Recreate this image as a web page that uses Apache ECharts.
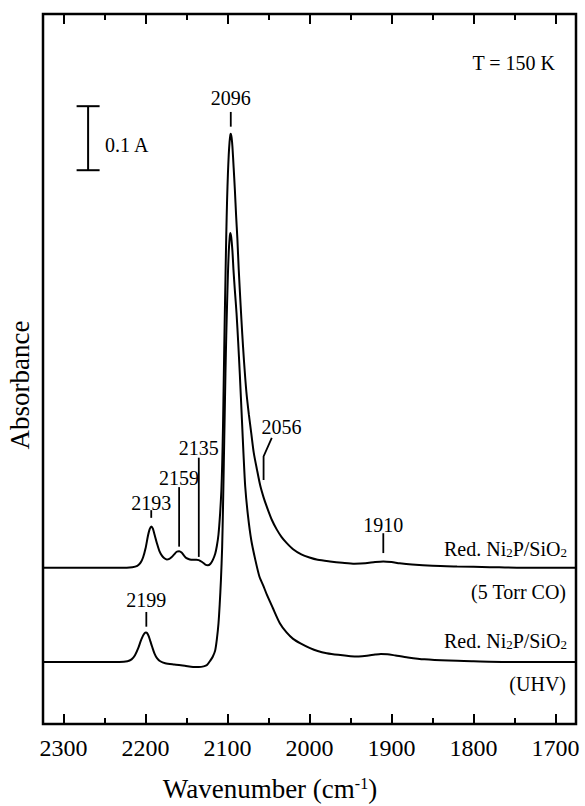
<!DOCTYPE html>
<html>
<head>
<meta charset="utf-8">
<script src="https://cdn.jsdelivr.net/npm/echarts@6/dist/echarts.min.js"></script>
<style>
  html, body { margin: 0; padding: 0; background: #fff; }
  #chart { width: 585px; height: 806px; }
</style>
</head>
<body>
<div id="chart"></div>
<script>
// IR spectra of CO adsorbed on reduced Ni2P/SiO2 at 150 K.
// Each spectrum: [wavenumber (cm-1), absorbance above its own baseline].
const spectrumCO = [
  [2325, 0], [2290, 0], [2260, 0], [2230, 0], [2216, 0.001], [2210, 0.003],
  [2206, 0.008], [2203, 0.016], [2200, 0.030], [2197, 0.050], [2195, 0.060],
  [2193, 0.0645], [2191, 0.061], [2189, 0.052], [2186, 0.038], [2183, 0.026],
  [2180, 0.019], [2177, 0.015], [2174, 0.013], [2171, 0.014], [2168, 0.017],
  [2165, 0.021], [2162, 0.025], [2159, 0.026], [2156, 0.024], [2153, 0.019],
  [2150, 0.015], [2146, 0.013], [2142, 0.0125], [2138, 0.0125], [2135, 0.012],
  [2131, 0.009], [2127, 0.005], [2124, 0.004], [2121, 0.006], [2118, 0.012],
  [2115, 0.022], [2113, 0.034], [2111, 0.052], [2109, 0.085], [2107.5, 0.12],
  [2106.5, 0.16], [2105.5, 0.22], [2104.5, 0.30], [2103.5, 0.38], [2102.5, 0.45],
  [2101.5, 0.52], [2100.5, 0.575], [2099.5, 0.615], [2098.5, 0.645], [2097.5, 0.665],
  [2096.5, 0.676], [2096, 0.678], [2095, 0.672], [2094, 0.658], [2092.5, 0.625],
  [2091, 0.59], [2089.5, 0.55], [2088, 0.515], [2086.3, 0.466], [2084, 0.41],
  [2082, 0.365], [2080, 0.325], [2077, 0.275], [2074, 0.24], [2071, 0.21],
  [2068, 0.18], [2064, 0.153], [2060, 0.128], [2056, 0.11], [2052, 0.095],
  [2046, 0.075], [2040, 0.060], [2034, 0.048], [2028, 0.039], [2020, 0.029],
  [2010, 0.021], [2000, 0.016], [1990, 0.0125], [1975, 0.010], [1960, 0.008],
  [1945, 0.0065], [1932, 0.007], [1920, 0.009], [1910, 0.010], [1900, 0.009],
  [1890, 0.007], [1875, 0.005], [1850, 0.003], [1820, 0.002], [1780, 0.001],
  [1740, 0], [1675, 0]
];

const spectrumUHV = [
  [2325, 0], [2290, 0], [2260, 0], [2232, 0], [2222, 0.001], [2217, 0.004],
  [2213, 0.010], [2209, 0.021], [2206, 0.032], [2203, 0.041], [2201, 0.045],
  [2199.5, 0.046], [2198, 0.045], [2196, 0.040], [2194, 0.032], [2192, 0.024],
  [2189, 0.013], [2186, 0.006], [2182, 0.001], [2176, -0.002], [2165, -0.004],
  [2152, -0.006], [2142, -0.008], [2135, -0.008], [2129, -0.007], [2125, -0.005],
  [2121, 0.002], [2118, 0.008], [2115, 0.018], [2113, 0.035], [2111, 0.06],
  [2109.5, 0.09], [2108, 0.128], [2106.5, 0.18], [2105.5, 0.24], [2104.5, 0.31],
  [2103.5, 0.38], [2102.5, 0.45], [2101.5, 0.51], [2100.5, 0.56], [2099.5, 0.605],
  [2098.5, 0.64], [2097.5, 0.66], [2096.7, 0.670], [2095.5, 0.664], [2094, 0.642],
  [2092.7, 0.612], [2091, 0.58], [2089, 0.545], [2087, 0.50], [2085, 0.45],
  [2082.4, 0.378], [2080.5, 0.325], [2078.4, 0.274], [2075, 0.228], [2071, 0.19],
  [2066, 0.159], [2061, 0.133], [2056, 0.118], [2052, 0.105], [2045, 0.085],
  [2036, 0.060], [2028, 0.046], [2020, 0.036], [2011, 0.029], [2000, 0.022],
  [1990, 0.017], [1979, 0.0136], [1965, 0.011], [1950, 0.009], [1940, 0.0085],
  [1930, 0.0095], [1920, 0.0115], [1913, 0.0125], [1905, 0.012], [1895, 0.010],
  [1880, 0.007], [1860, 0.004], [1830, 0.002], [1800, 0.001], [1760, 0], [1675, 0]
];

// Band positions marked on the spectra (cm-1)
const peakLabels = [2096, 2193, 2159, 2135, 2056, 1910, 2199];

// Axis tick values
const majorTicks = [2300, 2200, 2100, 2000, 1900, 1800, 1700];
const minorTicks = [2250, 2150, 2050, 1950, 1850, 1750];

// Absorbance scale bar
const scaleBarSize = 0.1;

// ---- layout ----
const FONT = '"Liberation Serif", "Times New Roman", serif';
const X_MIN = 1675, X_MAX = 2325;
const Y_MIN = 0, Y_MAX = 1.109;
const baselineCO = 0.244;   // vertical offset of the 5 Torr CO trace
const baselineUHV = 0.097;  // vertical offset of the UHV trace
const scaleBarPos = { x: 2270, bottom: 0.865 };

// Leader lines for band labels, in axis units
const leaders = {
  2096: { lo: 0.933, hi: 0.956, text: 0.978 },
  2193: { lo: 0.322, hi: 0.334, text: 0.345 },
  2159: { lo: 0.277, hi: 0.370, text: 0.384 },
  2135: { lo: 0.261, hi: 0.416, text: 0.431 },
  2056: { lo: 0.381, hi: 0.418, bendX: 2046, bendY: 0.447, textX: 2034, text: 0.464 },
  1910: { lo: 0.267, hi: 0.298, text: 0.311 },
  2199: { lo: 0.152, hi: 0.175, text: 0.194 }
};

function shift(data, offset) {
  return data.map(([w, a]) => [w, a + offset]);
}

function xAxisDef(position, values, len, withLabels) {
  return {
    type: 'value', position, min: X_MIN, max: X_MAX, inverse: true,
    axisLine: { show: false },
    splitLine: { show: false },
    axisTick: {
      show: true, inside: true, length: len, customValues: values,
      lineStyle: { color: '#000', width: 2 }
    },
    axisLabel: {
      show: withLabels, customValues: values, margin: 12,
      formatter: v => String(v),
      color: '#000', fontFamily: FONT, fontSize: 24
    }
  };
}

const chart = echarts.init(document.getElementById('chart'), null, { renderer: 'svg' });

const traceStyle = { color: '#000', width: 2 };

chart.setOption({
  animation: false,
  backgroundColor: '#fff',
  grid: {
    left: 43, right: 9, top: 14, bottom: 82,
    show: true, borderColor: '#000', borderWidth: 2.5, backgroundColor: 'transparent'
  },
  xAxis: [
    xAxisDef('bottom', majorTicks, 10, true),
    xAxisDef('bottom', minorTicks, 6, false),
    xAxisDef('top', majorTicks, 10, false),
    xAxisDef('top', minorTicks, 6, false)
  ],
  yAxis: {
    type: 'value', min: Y_MIN, max: Y_MAX,
    axisLine: { show: false }, axisTick: { show: false },
    axisLabel: { show: false }, splitLine: { show: false }
  },
  series: [
    {
      name: '5 Torr CO', type: 'line', data: shift(spectrumCO, baselineCO),
      showSymbol: false, smooth: 0.25, lineStyle: traceStyle, silent: true
    },
    {
      name: 'UHV', type: 'line', data: shift(spectrumUHV, baselineUHV),
      showSymbol: false, smooth: 0.25, lineStyle: traceStyle, silent: true
    },
    {
      name: 'bands', type: 'custom', silent: true,
      data: peakLabels.map(w => [w, leaders[w].lo]),
      renderItem: (params, api) => {
        const w = api.value(0);
        const L = leaders[w];
        const pts = [api.coord([w, L.lo]), api.coord([w, L.hi])];
        if (L.bendX !== undefined) pts.push(api.coord([L.bendX, L.bendY]));
        const tp = api.coord([L.textX !== undefined ? L.textX : w, L.text]);
        return {
          type: 'group',
          children: [
            { type: 'polyline', shape: { points: pts },
              style: { stroke: '#000', lineWidth: 1.8, fill: null } },
            { type: 'text', x: tp[0], y: tp[1],
              style: { text: String(w), fill: '#000', fontFamily: FONT, fontSize: 20,
                       align: 'center', verticalAlign: 'middle',
                       textAlign: 'center', textVerticalAlign: 'middle' } }
          ]
        };
      }
    },
    {
      name: 'scale', type: 'custom', silent: true,
      data: [[scaleBarPos.x, scaleBarPos.bottom]],
      renderItem: (params, api) => {
        const x = api.value(0), y0 = api.value(1);
        const a = api.coord([x, y0]);
        const b = api.coord([x, y0 + scaleBarSize]);
        const cap = 11.5;
        const st = { stroke: '#000', lineWidth: 2 };
        return {
          type: 'group',
          children: [
            { type: 'line', shape: { x1: a[0], y1: a[1], x2: b[0], y2: b[1] }, style: st },
            { type: 'line', shape: { x1: a[0] - cap, y1: a[1], x2: a[0] + cap, y2: a[1] }, style: st },
            { type: 'line', shape: { x1: b[0] - cap, y1: b[1], x2: b[0] + cap, y2: b[1] }, style: st }
          ]
        };
      }
    }
  ],
  graphic: [
    { type: 'text', left: null, x: 555, y: 63,
      style: { text: 'T = 150 K', fill: '#000', fontFamily: FONT, fontSize: 20,
               align: 'right', verticalAlign: 'middle', textAlign: 'right', textVerticalAlign: 'middle' } },
    { type: 'text', x: 105, y: 145,
      style: { text: scaleBarSize + ' A', fill: '#000', fontFamily: FONT, fontSize: 20,
               align: 'left', verticalAlign: 'middle', textAlign: 'left', textVerticalAlign: 'middle' } },
    { type: 'text', x: 567, y: 549,
      style: { text: 'Red. Ni{s|2}P/SiO{s|2}', fill: '#000', fontFamily: FONT, fontSize: 20,
               align: 'right', verticalAlign: 'middle', textAlign: 'right', textVerticalAlign: 'middle',
               rich: { s: { fontFamily: FONT, fontSize: 13, verticalAlign: 'bottom', fill: '#000' } } } },
    { type: 'text', x: 566, y: 592,
      style: { text: '(5 Torr CO)', fill: '#000', fontFamily: FONT, fontSize: 20,
               align: 'right', verticalAlign: 'middle', textAlign: 'right', textVerticalAlign: 'middle' } },
    { type: 'text', x: 567, y: 641,
      style: { text: 'Red. Ni{s|2}P/SiO{s|2}', fill: '#000', fontFamily: FONT, fontSize: 20,
               align: 'right', verticalAlign: 'middle', textAlign: 'right', textVerticalAlign: 'middle',
               rich: { s: { fontFamily: FONT, fontSize: 13, verticalAlign: 'bottom', fill: '#000' } } } },
    { type: 'text', x: 566, y: 684,
      style: { text: '(UHV)', fill: '#000', fontFamily: FONT, fontSize: 20,
               align: 'right', verticalAlign: 'middle', textAlign: 'right', textVerticalAlign: 'middle' } },
    { type: 'text', x: 270, y: 789,
      style: { text: 'Wavenumber (cm{p|-1})', fill: '#000', fontFamily: FONT, fontSize: 27,
               align: 'center', verticalAlign: 'middle', textAlign: 'center', textVerticalAlign: 'middle',
               rich: { p: { fontFamily: FONT, fontSize: 16, verticalAlign: 'top', fill: '#000' } } } },
    { type: 'text', x: 20, y: 385, rotation: Math.PI / 2,
      style: { text: 'Absorbance', fill: '#000', fontFamily: FONT, fontSize: 27,
               align: 'center', verticalAlign: 'middle', textAlign: 'center', textVerticalAlign: 'middle' } }
  ]
});
</script>
</body>
</html>
